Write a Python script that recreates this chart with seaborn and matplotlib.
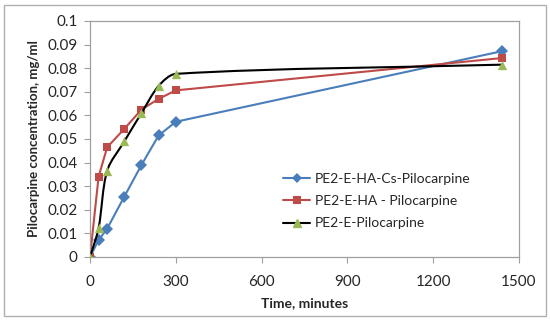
import numpy as np
import pandas as pd
import seaborn as sns
from matplotlib import pyplot as plt
from matplotlib.path import Path
from matplotlib.patches import PathPatch
from matplotlib.lines import Line2D

# release data
time_min = [0, 30, 60, 120, 180, 240, 300, 1440]
ha_cs = [0, 0.0072, 0.012, 0.0256, 0.039, 0.0515, 0.0573, 0.0872]
ha = [0, 0.034, 0.0465, 0.0543, 0.0625, 0.067, 0.0706, 0.0843]
e_only = [0, 0.0122, 0.0366, 0.049, 0.061, 0.0725, 0.0776, 0.0815]
labels = ["PE2-E-HA-Cs-Pilocarpine", "PE2-E-HA - Pilocarpine", "PE2-E-Pilocarpine"]

blue, red, green = "#4A7EBB", "#BE4B48", "#98B954"

df = pd.DataFrame({"time": time_min * 3,
                   "conc": ha_cs + ha + e_only,
                   "series": [labels[0]] * 8 + [labels[1]] * 8 + [labels[2]] * 8})

sns.set_style("white")
plt.rcParams["font.family"] = ["Lato", "DejaVu Sans"]

fig = plt.figure(figsize=(5.5, 3.2), dpi=100)
ax = fig.add_axes([90 / 550, 63 / 320, 429 / 550, 236 / 320])
ax.set_xlim(0, 1500)
ax.set_ylim(0, 0.1)

# straight lines for the two first series
sns.lineplot(data=df[df.series != labels[2]], x="time", y="conc", hue="series",
             palette=[blue, red], style="series", markers=["D", "s"], dashes=False,
             markersize=6, markeredgewidth=0, linewidth=1.5, legend=False, ax=ax)


# smoothed line (excel style) for the last one, bezier path built in pixel space
def smooth_path(xs, ys, sx, sy, k=0.3):
    p = np.column_stack([np.asarray(xs, float) * sx, np.asarray(ys, float) * sy])
    n = len(p)
    tang = []
    for i in range(n):
        d = p[min(i + 1, n - 1)] - p[max(i - 1, 0)]
        tang.append(d / np.hypot(*d))
    verts = [p[0]]
    codes = [Path.MOVETO]
    for i in range(n - 1):
        seg = np.hypot(*(p[i + 1] - p[i]))
        verts += [p[i] + tang[i] * seg * k, p[i + 1] - tang[i + 1] * seg * k, p[i + 1]]
        codes += [Path.CURVE4] * 3
    verts = np.array(verts) / [sx, sy]
    return Path(verts, codes)


ax.add_patch(PathPatch(smooth_path(time_min, e_only, 429 / 1500, 236 / 0.1), fill=False,
                       edgecolor="black", lw=1.5, zorder=3))
sns.scatterplot(x=time_min, y=e_only, marker="^", color=green, s=45, linewidth=0, zorder=4, ax=ax)

ax.set_xlim(0, 1500)
ax.set_ylim(0, 0.1)
ax.set_xticks(range(0, 1501, 300))
ax.set_yticks(np.arange(0, 0.101, 0.01))
ax.set_yticklabels(["0", "0.01", "0.02", "0.03", "0.04", "0.05", "0.06", "0.07", "0.08", "0.09", "0.1"])
ax.tick_params(axis="both", labelsize=11, length=4, width=0.8, color="#A0A0A0", direction="out",
               bottom=True, left=True, pad=5)
ax.tick_params(axis="x", pad=9)
for s in ax.spines.values():
    s.set_color("#A0A0A0")
    s.set_linewidth(0.9)
ax.set_xlabel("Time, minutes", fontsize=10, fontweight="bold", labelpad=6)
ax.set_ylabel("Pilocarpine concentration, mg/ml", fontsize=9.5, fontweight="bold", labelpad=5)

handles = [Line2D([], [], color=blue, marker="D", ms=5, mew=0, lw=1.5),
           Line2D([], [], color=red, marker="s", ms=6, mew=0, lw=1.5),
           Line2D([], [], color="black", marker="^", mfc=green, mec=green, ms=6, lw=1.5)]
ax.legend(handles, labels, loc="center left", bbox_to_anchor=(0.42, 0.237), frameon=False,
          fontsize=10, handlelength=2, handletextpad=0.3, labelspacing=0.75)

# outer chart border
fig.patches.append(plt.Rectangle((4 / 550, 4 / 320), 542 / 550, 311 / 320, transform=fig.transFigure,
                                 fill=False, edgecolor="#B0B0B0", lw=1))

fig.savefig("out.png", dpi=100)
